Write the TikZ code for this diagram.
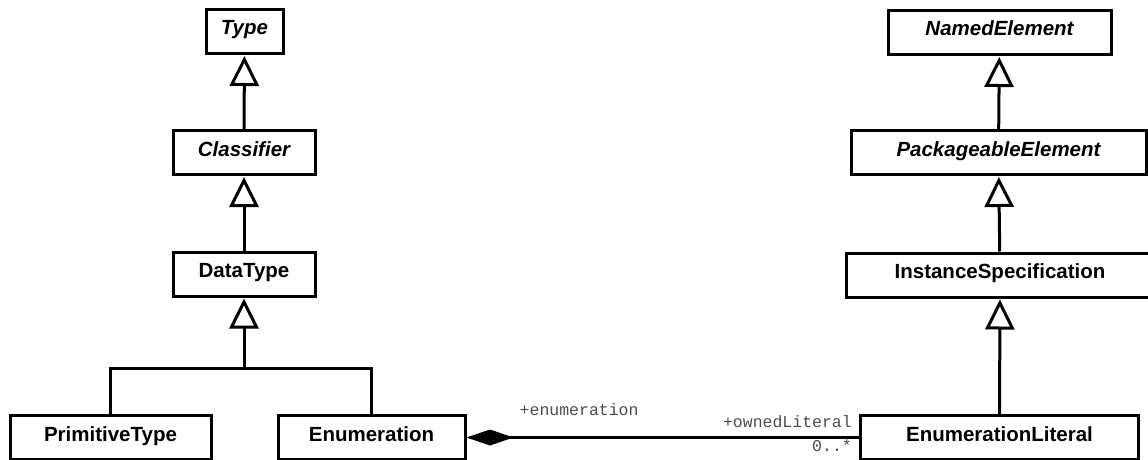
\documentclass[tikz,border=0pt]{standalone}
\usepackage{fontspec}
\setmainfont{Liberation Sans}
\setmonofont{Liberation Mono}
\usetikzlibrary{arrows.meta}

\begin{document}
\begin{tikzpicture}
  [
    x=1pt, y=-1pt,
    class/.style={draw, line width=3pt, inner xsep=0pt, inner ysep=9.5pt,
      text height=16pt, text depth=9pt,
      font=\fontsize{20.5}{24}\selectfont\bfseries},
    abstract/.style={class, font=\fontsize{20.5}{24}\selectfont\bfseries\itshape},
    link/.style={line width=3pt},
    inherit/.style={link, shorten >=1pt,
      -{Triangle[open, length=30pt, width=29pt, line width=3pt]}},
    role/.style={inner sep=0pt, text=black!70,
      font=\fontsize{16.5}{18}\selectfont\ttfamily}
  ]
  \useasboundingbox (0,0) rectangle (1148,460);

  % left hierarchy
  \node[abstract, minimum width=77pt] (type) at (244.5,31.5) {Type};
  \node[abstract, minimum width=142pt] (classifier) at (244,152.5) {Classifier};
  \node[class, minimum width=142pt] (datatype) at (244,274) {DataType};
  \node[class, minimum width=201pt] (primitive) at (110.5,437.5) {PrimitiveType};
  \node[class, minimum width=187pt] (enumeration) at (371.5,437.5) {Enumeration};

  % right hierarchy
  \node[abstract, minimum width=223pt] (named) at (999.5,32.5) {NamedElement};
  \node[abstract, minimum width=295pt] (packageable) at (998.5,152.5) {PackageableElement};
  \node[class, minimum width=308pt] (instance) at (1000,275) {InstanceSpecification};
  \node[class, minimum width=278pt] (literal) at (999.5,437.5) {EnumerationLiteral};

  \draw[inherit] (classifier) -- (type);
  \draw[inherit] (datatype) -- (classifier);
  \coordinate (fork) at (244,368);
  \draw[inherit] (fork) -- (datatype);
  \draw[link] (primitive) |- (fork) -| (enumeration);

  \draw[inherit] (packageable) -- (named);
  \draw[inherit] (instance) -- (packageable);
  \draw[inherit] (literal) -- (instance);

  % composition enumeration <>-- literals
  \draw[link, {Diamond[length=47pt, width=16pt]}-] (enumeration) -- (literal);
  \node[role, anchor=base west] at (enumeration.east) [xshift=53pt, yshift=22.5pt] {+enumeration};
  \node[role, anchor=base east] at (literal.west) [xshift=-7pt, yshift=10.5pt] {+ownedLiteral};
  \node[role, anchor=base east] at (literal.west) [xshift=-7pt, yshift=-13.5pt] {0..*};
\end{tikzpicture}
\end{document}
